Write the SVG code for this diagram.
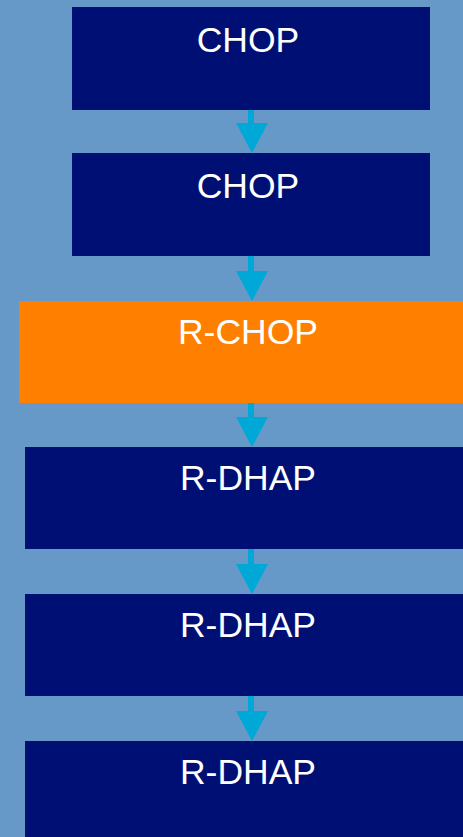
<svg xmlns="http://www.w3.org/2000/svg" width="463" height="837" viewBox="0 0 463 837">
<style>
.bg{fill:#6699C8}
.navy{fill:#000F73}
.orange{fill:#FF8000}
.lbl{font-family:"Liberation Sans",Arial,sans-serif;font-size:35.5px;fill:#FFFFFF;text-anchor:middle}
.arrow{fill:#00A8D8}
</style>
<rect class="bg" x="0" y="0" width="463" height="837"/>
<g id="connectors">
<path class="arrow" d="M248,110 h6 v13 h14 l-16,30 l-16,-30 h12 z"/>
<path class="arrow" d="M248,256 h6 v15 h14 l-16,30 l-16,-30 h12 z"/>
<path class="arrow" d="M248,403 h6 v14 h14 l-16,30 l-16,-30 h12 z"/>
<path class="arrow" d="M248,549 h6 v15 h14 l-16,30 l-16,-30 h12 z"/>
<path class="arrow" d="M248,696 h6 v15 h14 l-16,30 l-16,-30 h12 z"/>
</g>
<g id="n1"><rect class="navy" x="72" y="7" width="358" height="103"/><text class="lbl" x="248" y="52">CHOP</text></g>
<g id="n2"><rect class="navy" x="72" y="153" width="358" height="103"/><text class="lbl" x="248" y="198">CHOP</text></g>
<g id="n3"><rect class="orange" x="19" y="301" width="444" height="102"/><text class="lbl" x="248" y="344">R-CHOP</text></g>
<g id="n4"><rect class="navy" x="25" y="447" width="438" height="102"/><text class="lbl" x="248" y="490">R-DHAP</text></g>
<g id="n5"><rect class="navy" x="25" y="594" width="438" height="102"/><text class="lbl" x="248" y="637">R-DHAP</text></g>
<g id="n6"><rect class="navy" x="25" y="741" width="438" height="96"/><text class="lbl" x="248" y="784">R-DHAP</text></g>
</svg>
